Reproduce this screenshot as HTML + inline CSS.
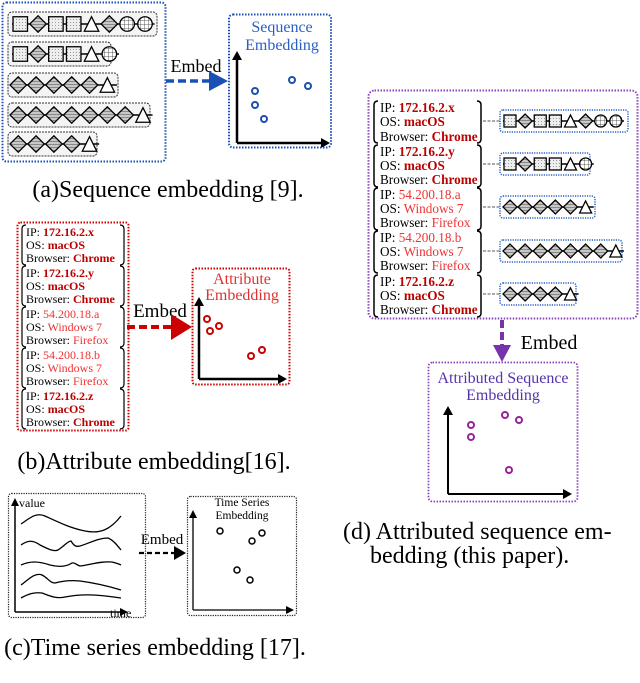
<!DOCTYPE html>
<html><head><meta charset="utf-8"><style>
html,body{margin:0;padding:0;background:#fff}
svg{display:block}
text{font-family:"Liberation Serif",serif}
</style></head><body>
<svg id="s" width="640" height="683" viewBox="0 0 640 683" xmlns="http://www.w3.org/2000/svg">
<defs>
<pattern id="dot" width="3" height="3" patternUnits="userSpaceOnUse"><rect width="3" height="3" fill="#eee"/><rect x="1" y="1" width="1" height="1" fill="#999"/></pattern>
<pattern id="str" width="4" height="3" patternUnits="userSpaceOnUse"><rect width="4" height="3" fill="#c8c8c8"/><rect y="0" width="4" height="1" fill="#888"/></pattern>
<pattern id="grd" width="4" height="4" patternUnits="userSpaceOnUse"><rect width="4" height="4" fill="#fff"/><path d="M0 0H4M0 0V4" stroke="#333" stroke-width="0.8"/></pattern>
<marker id="ak" markerWidth="8" markerHeight="8" refX="6" refY="4" orient="auto" markerUnits="userSpaceOnUse"><path d="M0 0L8 4L0 8Z" fill="#000"/></marker>
</defs>
<g id="g"></g>

<!-- (a) -->
<rect x="2.5" y="2.5" width="163" height="159" rx="4" fill="none" stroke="#1a4fb5" stroke-width="2" stroke-dasharray="1.5 1.5"/>
<text x="196" y="72" font-size="18" text-anchor="middle">Embed</text>
<line x1="166" y1="81" x2="212" y2="81" stroke="#1a4fb5" stroke-width="3.5" stroke-dasharray="8 4"/>
<path d="M209 71L228 81L209 91Z" fill="#1a4fb5"/>
<rect x="229" y="14.5" width="102" height="133" rx="4" fill="none" stroke="#1a4fb5" stroke-width="2" stroke-dasharray="1.5 1.5"/>
<text x="282" y="32" font-size="16" fill="#2a5fc5" text-anchor="middle">Sequence</text>
<text x="282" y="50" font-size="16" fill="#2a5fc5" text-anchor="middle">Embedding</text>
<text x="168" y="197" font-size="24" text-anchor="middle">(a)Sequence embedding [9].</text>

<!-- (b) -->
<rect x="17.5" y="222.5" width="111" height="208" rx="3" fill="none" stroke="#c00" stroke-width="2" stroke-dasharray="1.5 1.5"/>
<text x="160" y="317" font-size="19" text-anchor="middle">Embed</text>
<line x1="127" y1="327" x2="174" y2="327" stroke="#c00" stroke-width="4" stroke-dasharray="8 4"/>
<path d="M171 314L192 327L171 340Z" fill="#c00"/>
<rect x="192.5" y="268.5" width="97" height="116" rx="3" fill="none" stroke="#c00" stroke-width="2" stroke-dasharray="1.5 1.5"/>
<text x="242" y="284" font-size="16" fill="#d33" text-anchor="middle">Attribute</text>
<text x="242" y="300" font-size="16" fill="#d33" text-anchor="middle">Embedding</text>
<text x="154" y="469" font-size="24" text-anchor="middle">(b)Attribute embedding[16].</text>

<!-- (c) -->
<rect x="8.5" y="493.5" width="137" height="124" rx="3" fill="none" stroke="#222" stroke-width="1.2" stroke-dasharray="1.2 1.2"/>
<line x1="15" y1="612" x2="15" y2="500" stroke="#000" stroke-width="1.5" marker-end="url(#ak)"/>
<line x1="15" y1="612" x2="126" y2="612" stroke="#000" stroke-width="1.5" marker-end="url(#ak)"/>
<text x="19" y="507" font-size="12">value</text>
<text x="110" y="617" font-size="12">time</text>
<g fill="none" stroke="#000" stroke-width="1.3">
<path d="M21 524C30 518 36 512 45 516C58 522 70 528 85 531C100 534 110 530 121 516"/>
<path d="M21 545C28 540 33 540 40 545C48 549 54 552 58 550C64 546 68 541 71 541C74 546 76 547 80 546C90 543 98 538 108 538C113 540 117 545 121 550"/>
<path d="M21 565C30 561 38 561 50 565C58 567 66 567 72 563C75 562 76 565 80 566C90 565 100 561 112 562C116 563 119 564 121 565"/>
<path d="M21 585C28 580 35 572 42 575C48 578 50 583 55 583C62 581 70 580 80 581C95 583 108 586 121 590"/>
<path d="M21 598C28 594 34 592 42 593C50 596 56 599 65 597C80 594 95 594 121 598"/>
</g>
<text x="162" y="544" font-size="15" text-anchor="middle">Embed</text>
<line x1="139" y1="553" x2="176" y2="553" stroke="#000" stroke-width="2.2" stroke-dasharray="5 3"/>
<path d="M174 546L186 553L174 560Z" fill="#000"/>
<rect x="187.5" y="496.5" width="109" height="119" rx="3" fill="none" stroke="#222" stroke-width="1.2" stroke-dasharray="1.2 1.2"/>
<text x="242" y="506" font-size="11.5" text-anchor="middle">Time Series</text>
<text x="242" y="519" font-size="11.5" text-anchor="middle">Embedding</text>
<line x1="193" y1="610" x2="193" y2="512" stroke="#000" stroke-width="1.3" marker-end="url(#ak)"/>
<line x1="193" y1="610" x2="292" y2="610" stroke="#000" stroke-width="1.3" marker-end="url(#ak)"/>
<text x="155" y="655" font-size="24" text-anchor="middle">(c)Time series embedding [17].</text>

<!-- (d) -->
<rect x="368.5" y="90.5" width="269" height="228" rx="6" fill="none" stroke="#8844bb" stroke-width="2" stroke-dasharray="1.5 1.5"/>
<line x1="502" y1="320" x2="502" y2="346" stroke="#7733aa" stroke-width="4" stroke-dasharray="8 4"/>
<path d="M493 345L502 362L511 345Z" fill="#7733aa"/>
<text x="549" y="349" font-size="20" text-anchor="middle">Embed</text>
<rect x="428.5" y="362.5" width="149" height="139" rx="4" fill="none" stroke="#8844bb" stroke-width="1.8" stroke-dasharray="1.5 1.5"/>
<text x="503" y="383" font-size="16" fill="#5533aa" text-anchor="middle">Attributed Sequence</text>
<text x="503" y="400" font-size="16" fill="#5533aa" text-anchor="middle">Embedding</text>
<text x="343" y="539" font-size="24">(d) Attributed sequence em-</text>
<text x="370" y="563" font-size="24">bedding (this paper).</text>

<!-- attribute text (b) -->
<g font-size="12">
<text x="26" y="236">IP: <tspan font-weight="bold" fill="#b00">172.16.2.x</tspan></text>
<text x="26" y="249">OS: <tspan font-weight="bold" fill="#b00">macOS</tspan></text>
<text x="26" y="262">Browser: <tspan font-weight="bold" fill="#b00">Chrome</tspan></text>
<text x="26" y="277">IP: <tspan font-weight="bold" fill="#b00">172.16.2.y</tspan></text>
<text x="26" y="290">OS: <tspan font-weight="bold" fill="#b00">macOS</tspan></text>
<text x="26" y="303">Browser: <tspan font-weight="bold" fill="#b00">Chrome</tspan></text>
<text x="26" y="318">IP: <tspan fill="#e33">54.200.18.a</tspan></text>
<text x="26" y="331">OS: <tspan fill="#e33">Windows 7</tspan></text>
<text x="26" y="344">Browser: <tspan fill="#e33">Firefox</tspan></text>
<text x="26" y="359">IP: <tspan fill="#e33">54.200.18.b</tspan></text>
<text x="26" y="372">OS: <tspan fill="#e33">Windows 7</tspan></text>
<text x="26" y="385">Browser: <tspan fill="#e33">Firefox</tspan></text>
<text x="26" y="400">IP: <tspan font-weight="bold" fill="#b00">172.16.2.z</tspan></text>
<text x="26" y="413">OS: <tspan font-weight="bold" fill="#b00">macOS</tspan></text>
<text x="26" y="426">Browser: <tspan font-weight="bold" fill="#b00">Chrome</tspan></text>
</g>
<!-- attribute text (d) -->
<g font-size="13.2">
<text x="380" y="112">IP: <tspan font-weight="bold" fill="#b00">172.16.2.x</tspan></text>
<text x="380" y="126">OS: <tspan font-weight="bold" fill="#b00">macOS</tspan></text>
<text x="380" y="141">Browser: <tspan font-weight="bold" fill="#b00">Chrome</tspan></text>
<text x="380" y="156">IP: <tspan font-weight="bold" fill="#b00">172.16.2.y</tspan></text>
<text x="380" y="170">OS: <tspan font-weight="bold" fill="#b00">macOS</tspan></text>
<text x="380" y="184">Browser: <tspan font-weight="bold" fill="#b00">Chrome</tspan></text>
<text x="380" y="199">IP: <tspan fill="#e33">54.200.18.a</tspan></text>
<text x="380" y="213">OS: <tspan fill="#e33">Windows 7</tspan></text>
<text x="380" y="227">Browser: <tspan fill="#e33">Firefox</tspan></text>
<text x="380" y="242">IP: <tspan fill="#e33">54.200.18.b</tspan></text>
<text x="380" y="256">OS: <tspan fill="#e33">Windows 7</tspan></text>
<text x="380" y="270">Browser: <tspan fill="#e33">Firefox</tspan></text>
<text x="380" y="286">IP: <tspan font-weight="bold" fill="#b00">172.16.2.z</tspan></text>
<text x="380" y="300">OS: <tspan font-weight="bold" fill="#b00">macOS</tspan></text>
<text x="380" y="314">Browser: <tspan font-weight="bold" fill="#b00">Chrome</tspan></text>
</g>
</svg>
<script>
var g=document.getElementById('g'),NS='http://www.w3.org/2000/svg';
function el(t,a){var e=document.createElementNS(NS,t);for(var k in a)e.setAttribute(k,a[k]);g.appendChild(e);return e;}
function row(seq,x,cy,s){var n=seq.length;el('line',{x1:x,y1:cy,x2:x+n*s*1.08,y2:cy,stroke:'#000','stroke-width':1.5});
for(var i=0;i<n;i++){var x0=x+i*s*1.08,h=s/2,c=seq[i],st={stroke:'#000','stroke-width':1.3};
if(c=='S'){st.x=x0+1;st.y=cy-h+1;st.width=s-2;st.height=s-2;st.fill='url(#dot)';el('rect',st);}
else if(c=='D'){st.points=(x0)+','+cy+' '+(x0+h)+','+(cy-h)+' '+(x0+s)+','+cy+' '+(x0+h)+','+(cy+h);st.fill='url(#str)';el('polygon',st);}
else if(c=='T'){st.points=(x0+1)+','+(cy+h-1)+' '+(x0+h)+','+(cy-h+1)+' '+(x0+s-1)+','+(cy+h-1);st.fill='#fff';el('polygon',st);}
else {st.cx=x0+h;st.cy=cy;st.r=h-1;st.fill='url(#grd)';el('circle',st);}}}
function box(x,y,w,h,col,dash){el('rect',{x:x,y:y,width:w,height:h,rx:4,fill:dash?'none':'#f4f4f4',stroke:col,'stroke-width':dash?1.5:1,'stroke-dasharray':dash?'1.2 1.2':'2 1'});}
var A=[['SDSSTDCC',12,24,157],['SDSSTC',12,54,111],['DDDDDT',10,85,118],['DDDDDDDT',10,115,150],['DDDDT',10,144,97]];
A.forEach(function(r){box(8,r[2]-12,r[3]-8,24,'#333',false);row(r[0],r[1],r[2],16.5);});
var D=[['SDSSTDCC',110,628],['SDSSTC',153,590],['DDDDDT',196,595],['DDDDDDDT',240,622],['DDDDT',283,576]];
D.forEach(function(r){el('line',{x1:483,y1:r[1]+11,x2:500,y2:r[1]+11,stroke:'#777','stroke-width':1.3,'stroke-dasharray':'3 1.5'});
el('rect',{x:500,y:r[1],width:r[2]-500,height:22,rx:3,fill:'none',stroke:'#2a5fc5','stroke-width':1.5,'stroke-dasharray':'1.2 1.2'});row(r[0],503,r[1]+11,14);});
function br(x1,x2,y,h,sw){var c=4;el('path',{d:'M'+(x1+c)+' '+y+'Q'+x1+' '+y+' '+x1+' '+(y+c)+'V'+(y+h-c)+'Q'+x1+' '+(y+h)+' '+(x1+c)+' '+(y+h),fill:'none',stroke:'#000','stroke-width':sw});
el('path',{d:'M'+(x2-c)+' '+y+'Q'+x2+' '+y+' '+x2+' '+(y+c)+'V'+(y+h-c)+'Q'+x2+' '+(y+h)+' '+(x2-c)+' '+(y+h),fill:'none',stroke:'#000','stroke-width':sw});}
[225,266,307,348,389].forEach(function(y){br(22,124,y,40,1.2);});
[101,145,188,231,275].forEach(function(y){br(374,481,y,42,1.5);});
function ax(ox,oy,tx,ry,sw){el('line',{x1:ox,y1:oy,x2:ox,y2:tx+8,stroke:'#000','stroke-width':sw});el('path',{d:'M'+(ox-5)+' '+(tx+9)+'L'+ox+' '+tx+'L'+(ox+5)+' '+(tx+9)+'Z'});
el('line',{x1:ox,y1:oy,x2:ry-8,y2:oy,stroke:'#000','stroke-width':sw});el('path',{d:'M'+(ry-9)+' '+(oy-5)+'L'+ry+' '+oy+'L'+(ry-9)+' '+(oy+5)+'Z'});}
ax(237,143,51,330,2.5);ax(199,379,297,287,2.5);ax(448,494,406,572,2);
function pts(a,col,r,sw){a.forEach(function(p){el('circle',{cx:p[0],cy:p[1],r:r,fill:'none',stroke:col,'stroke-width':sw});});}
pts([[255,91],[255,105],[264,119],[292,80],[308,86]],'#1a4fb5',3,2);
pts([[207,319],[210,331],[219,326],[251,356],[262,350]],'#c00',3,2);
pts([[220,531],[252,541],[262,533],[237,570],[250,580]],'#000',3,1.5);
pts([[471,425],[471,437],[505,415],[519,420],[509,470]],'#992299',3,2);
</script>
</body></html>
